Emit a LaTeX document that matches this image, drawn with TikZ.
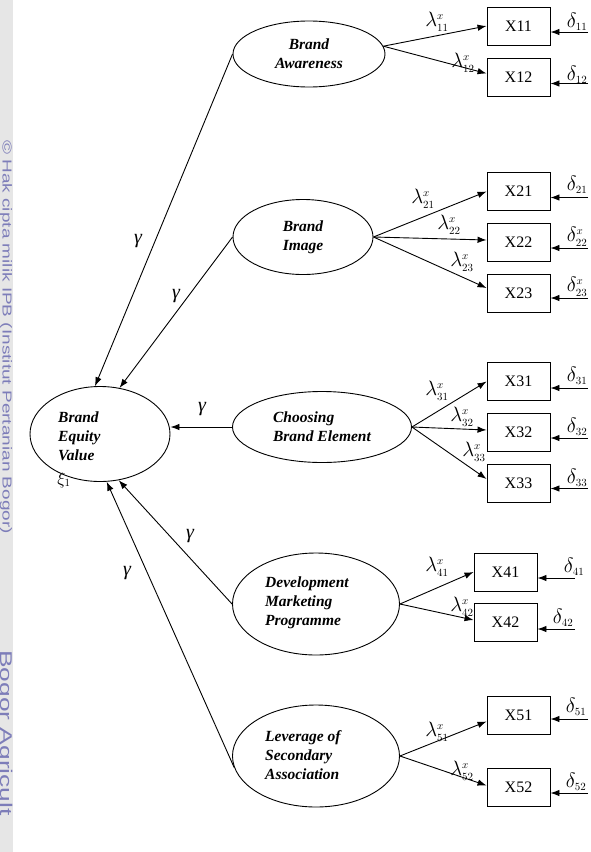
\documentclass[tikz,border=0pt]{standalone}
\usepackage{fontspec}
\setmainfont{Liberation Serif}
\newfontfamily\wmfont{Liberation Sans}
\usetikzlibrary{shapes.geometric,arrows.meta}
\DeclareMathSizes{20}{20}{11}{8}
\DeclareMathSizes{18}{18}{11}{8}
\definecolor{wmblue}{RGB}{125,125,185}
\definecolor{wmgray}{RGB}{230,230,230}
\begin{document}
\begin{tikzpicture}[x=1pt,y=-1pt,
  lat/.style={ellipse, draw, line width=0.9pt, inner sep=0pt},
  latxt/.style={font=\fontsize{15.5}{19}\selectfont\bfseries\itshape, align=left, inner sep=0pt},
  obs/.style={rectangle, draw, line width=0.9pt, minimum width=63pt, minimum height=38pt, inner sep=0pt, font=\fontsize{16}{16}\selectfont},
  arr/.style={-{Latex[length=9pt,width=6.5pt]}, line width=0.9pt},
  lab/.style={inner sep=0pt, font=\fontsize{20}{20}\selectfont},
  glab/.style={inner sep=0pt, font=\fontsize{20}{20}\selectfont\itshape},
  wm/.style={rotate=-90, anchor=base west, inner sep=0pt, text=wmblue}]
\useasboundingbox (0,0) rectangle (591,852);
% watermark strip
\fill[wmgray] (0,0) rectangle (13,852);
\node[wm, font=\wmfont\fontsize{13}{13}\selectfont] (wm1) at (2.5,140) {\scalebox{1.46}[1]{© Hak cipta milik IPB (Institut Pertanian Bogor)}};
\node[wm, font=\wmfont\fontsize{17}{17}\selectfont] (wm2) at (1,650) {\scalebox{1.55}[1]{Bogor Agricult}};

% latent variables
\node[lat, latxt, align=center, minimum width=152pt, minimum height=66pt] (ba) at (309,54) {Brand\\Awareness};
\node[lat, latxt, minimum width=140pt, minimum height=75pt] (bi) at (303,237) {Brand\\Image};
\node[lat, latxt, minimum width=179pt, minimum height=71pt] (cbe) at (322,427) {Choosing\\Brand Element};
\node[lat, minimum width=167pt, minimum height=102pt] (dmp) at (316,604) {};
\node[latxt, anchor=west] (dmpt) at (265,603) {Development\\Marketing\\Programme};
\node[lat, minimum width=167pt, minimum height=102pt] (lsa) at (316,756) {};
\node[latxt, anchor=west] (lsat) at (265,755) {Leverage of\\Secondary\\Association};
\node[lat, minimum width=140pt, minimum height=95pt] (bev) at (100,434) {};
\node[latxt, anchor=west] (bevt) at (58,436) {Brand\\Equity\\Value};
\node[inner sep=0pt, font=\fontsize{18}{18}\selectfont] (xi) at (64,480) {$\xi_1$};

% observed variables
\node[obs] (x11) at (518.5,26) {X11};
\node[obs] (x12) at (518.5,77.5) {X12};
\node[obs] (x21) at (518.5,191.5) {X21};
\node[obs] (x22) at (518.5,242) {X22};
\node[obs] (x23) at (518.5,293) {X23};
\node[obs] (x31) at (518.5,381.5) {X31};
\node[obs] (x32) at (518.5,432) {X32};
\node[obs] (x33) at (518.5,483) {X33};
\node[obs] (x41) at (505.5,572) {X41};
\node[obs] (x42) at (505.5,622) {X42};
\node[obs] (x51) at (518.5,715.5) {X51};
\node[obs] (x52) at (518.5,787.5) {X52};

% structural paths
\draw[arr] (ba.west) -- (bev.96);
\draw[arr] (bi.west) -- (bev.67);
\draw[arr] (cbe.west) -- (cbe.west -| bev.east);
\draw[arr] (dmp.west) -- (bev.292);
\draw[arr] (lsa.188) -- (bev.278);
\node[glab] (g1) at (138,241) {γ};
\node[glab] (g2) at (176,296) {γ};
\node[glab] (g3) at (202,409) {γ};
\node[glab] (g4) at (190,536) {γ};
\node[glab] (g5) at (127,573) {γ};

% measurement paths
\draw[arr] (ba.6) -- (x11.west);
\draw[arr] (ba.6) -- ([yshift=4pt]x12.west);
\draw[arr] (bi.east) -- (x21.west);
\draw[arr] (bi.east) -- ([yshift=2pt]x22.west);
\draw[arr] (bi.east) -- ([yshift=5pt]x23.west);
\draw[arr] (cbe.east) -- (x31.west);
\draw[arr] (cbe.east) -- ([yshift=2pt]x32.west);
\draw[arr] (cbe.east) -- ([yshift=4pt]x33.west);
\draw[arr] (dmp.east) -- (x41.west);
\draw[arr] (dmp.east) -- ([yshift=2pt]x42.west);
\draw[arr] (lsa.east) -- ([yshift=-6pt]x51.west);
\draw[arr] (lsa.east) -- ([yshift=2pt]x52.west);

\newcommand{\lamx}[1]{$\lambda^{x}_{#1}$}
\node[lab] (l11) at (437,22) {\lamx{11}};
\node[lab] (l12) at (463,63) {\lamx{12}};
\node[lab] (l21) at (423,199) {\lamx{21}};
\node[lab] (l22) at (449,225) {\lamx{22}};
\node[lab] (l23) at (462,262) {\lamx{23}};
\node[lab] (l31) at (437,391) {\lamx{31}};
\node[lab] (l32) at (462,417) {\lamx{32}};
\node[lab] (l33) at (474,452) {\lamx{33}};
\node[lab] (l41) at (437,567) {\lamx{41}};
\node[lab] (l42) at (462,607) {\lamx{42}};
\node[lab] (l51) at (437,732) {\lamx{51}};
\node[lab] (l52) at (462,771) {\lamx{52}};

% errors
\coordinate (e11) at (588,32);
\coordinate (e12) at (588,83.5);
\coordinate (e21) at (588,197.5);
\coordinate (e22) at (588,248);
\coordinate (e23) at (588,298);
\coordinate (e31) at (588,388);
\coordinate (e32) at (588,438);
\coordinate (e33) at (588,488.5);
\coordinate (e41) at (575,578);
\coordinate (e42) at (575,629);
\coordinate (e51) at (588,719);
\coordinate (e52) at (588,793);
\foreach \i in {11,12,21,22,23,31,32,33,41,42,51,52}{
  \draw[arr] (e\i) -- (x\i.east |- e\i);
}
\node[lab] (d11) at (577,22) {$\delta_{11}$};
\node[lab] (d12) at (577,75) {$\delta_{12}$};
\node[lab] (d21) at (577,185) {$\delta_{21}$};
\node[lab] (d22) at (577,237) {$\delta^{x}_{22}$};
\node[lab] (d23) at (577,287) {$\delta^{x}_{23}$};
\node[lab] (d31) at (577,376) {$\delta_{31}$};
\node[lab] (d32) at (577,427) {$\delta_{32}$};
\node[lab] (d33) at (577,478) {$\delta_{33}$};
\node[lab] (d41) at (574,567) {$\delta_{41}$};
\node[lab] (d42) at (563,618) {$\delta_{42}$};
\node[lab] (d51) at (576,707) {$\delta_{51}$};
\node[lab] (d52) at (576,782) {$\delta_{52}$};
\end{tikzpicture}
\end{document}
